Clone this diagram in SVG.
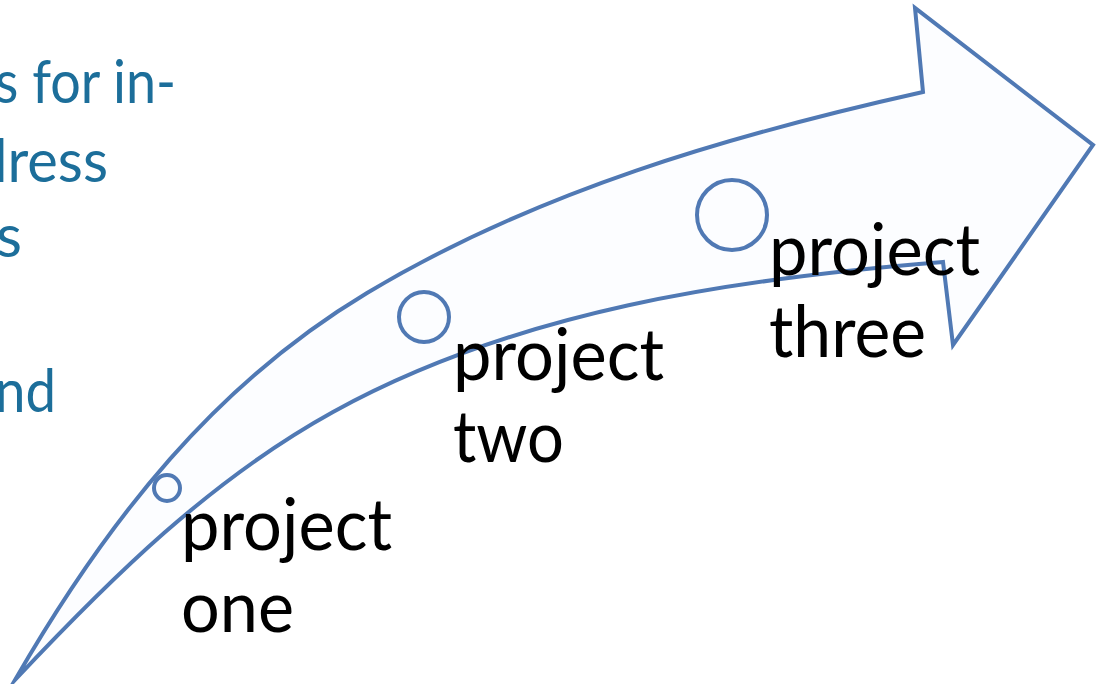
<svg xmlns="http://www.w3.org/2000/svg" width="1107" height="684" viewBox="0 0 1107 684">
<style>
.shape{fill:#fcfdff;stroke:#5079b4;stroke-width:4;stroke-linejoin:miter;stroke-miterlimit:10}
.dot{fill:none;stroke:#5079b4;stroke-width:4}
.lbl{font-family:Lato,"Liberation Sans",sans-serif;font-size:71px;fill:#000}
.side{font-family:Lato,"Liberation Sans",sans-serif;font-size:60px;fill:#1c6e9a}
</style>
<rect width="1107" height="684" fill="#ffffff"/>
<g id="side-text">
<text class="side" x="-5" y="103" textLength="181" lengthAdjust="spacingAndGlyphs">s for in-</text>
<text class="side" x="-25" y="182" textLength="133" lengthAdjust="spacingAndGlyphs">dress</text>
<text class="side" x="-4" y="257">s</text>
<text class="side" x="-5" y="412" textLength="61" lengthAdjust="spacingAndGlyphs">nd</text>
</g>
<g id="connectors">
<path id="arrow" class="shape" d="M 15,680 C 110,515.5 217,383 367,293 C 535.8,191.7 730.7,135 923,92 L 915,8 L 1093,145 L 953,345 L 943,262 C 733.6,278.8 517,310.6 333,412 C 210.4,479.6 111,578 15,680 Z"/>
</g>
<g id="node-one">
<circle class="dot" cx="167" cy="488" r="13"/>
<text class="lbl" x="181" y="550" textLength="211" lengthAdjust="spacingAndGlyphs">project</text>
<text class="lbl" x="181" y="632" textLength="113" lengthAdjust="spacingAndGlyphs">one</text>
</g>
<g id="node-two">
<circle class="dot" cx="424" cy="317" r="25"/>
<text class="lbl" x="453" y="380" textLength="211" lengthAdjust="spacingAndGlyphs">project</text>
<text class="lbl" x="453" y="462" textLength="111" lengthAdjust="spacingAndGlyphs">two</text>
</g>
<g id="node-three">
<circle class="dot" cx="732" cy="215" r="35"/>
<text class="lbl" x="769" y="275" textLength="211" lengthAdjust="spacingAndGlyphs">project</text>
<text class="lbl" x="769" y="357" textLength="157" lengthAdjust="spacingAndGlyphs">three</text>
</g>
</svg>
